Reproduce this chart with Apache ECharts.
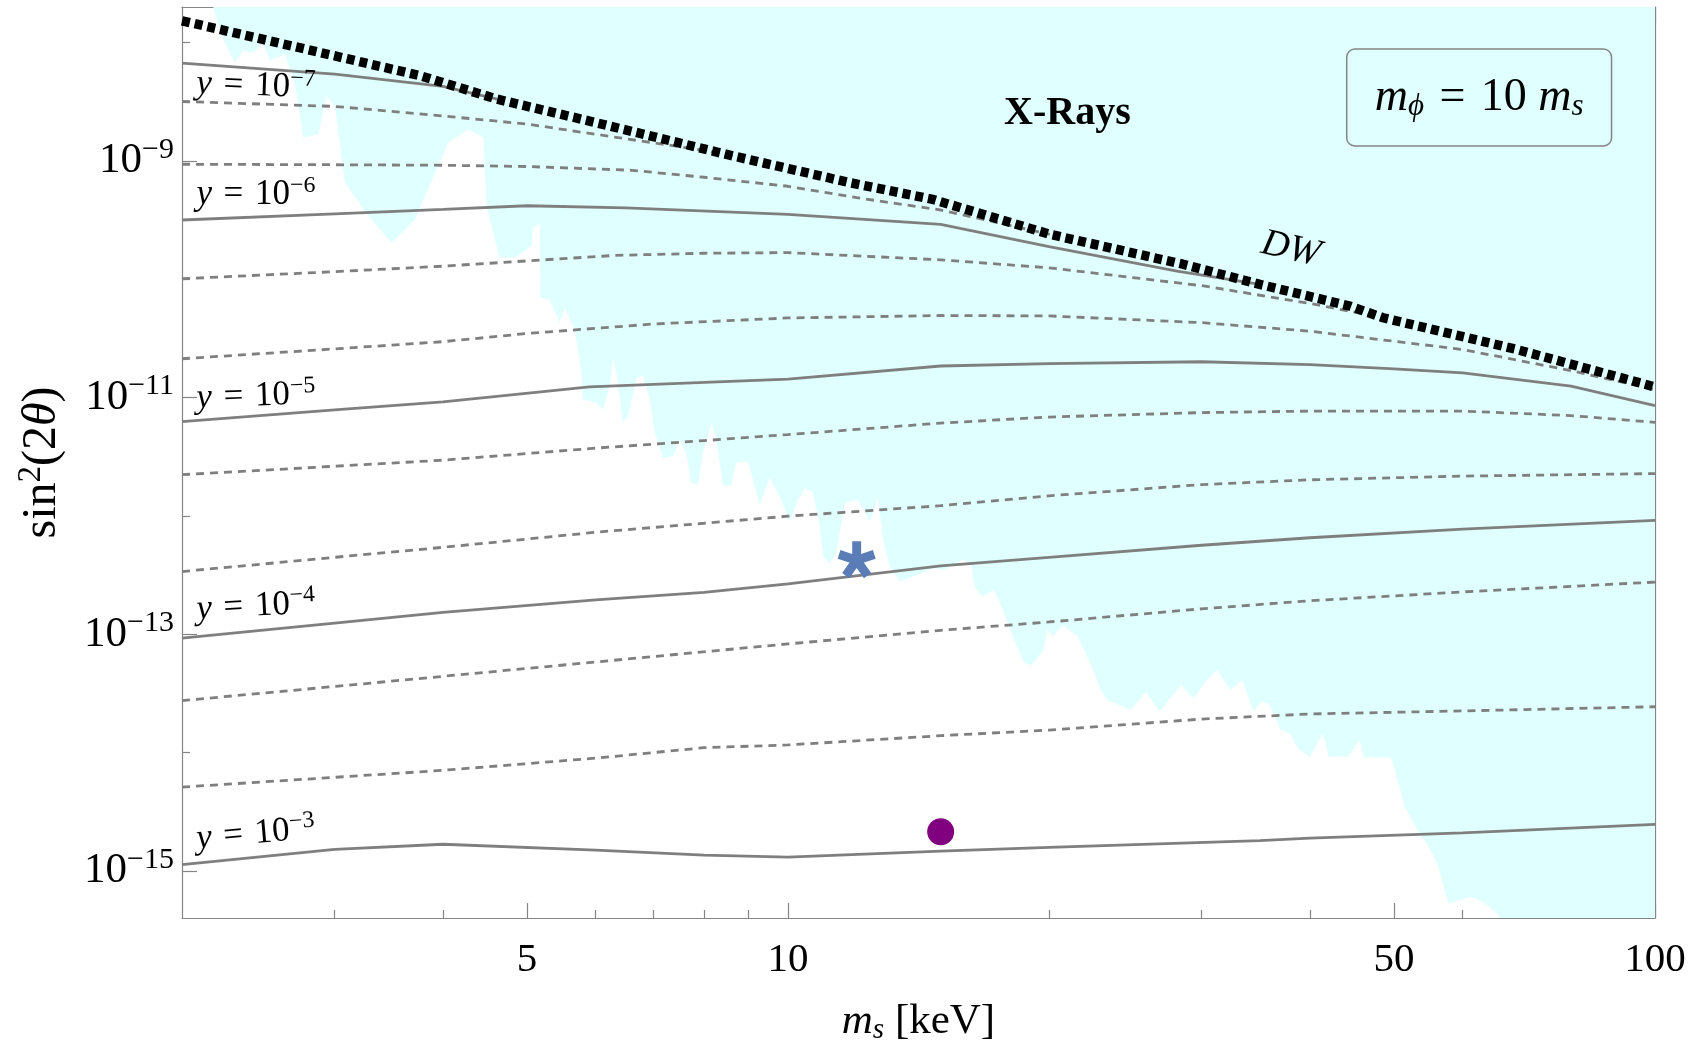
<!DOCTYPE html>
<html>
<head>
<meta charset="utf-8">
<script src="https://cdn.jsdelivr.net/npm/echarts@6/dist/echarts.min.js"></script>
<style>
  html, body { margin: 0; padding: 0; background: #fff; }
  #chart { width: 1703px; height: 1053px; }
</style>
</head>
<body>
<div id="chart"></div>
<script>
const serif = '"Liberation Serif", "DejaVu Serif", serif';
const lineGray = '#7f7f7f';
const frameGray = '#858585';
const xrayFill = '#e0ffff';

// axes
const xRange = [2, 100];
const yRange = [4e-16, 2e-8];
const xMajorTicks = [5, 10, 50, 100];
const xMinorTicks = [3, 4, 6, 7, 8, 9, 20, 30, 40, 60, 70, 80, 90];
const yMajorTicks = [1e-15, 1e-13, 1e-11, 1e-9];
const yMinorTicks = [1e-14, 1e-12, 1e-10, 1e-8];

// DW upper bound (thick dotted)
const dwBound = [
  [2, 1.53e-8], [2.777, 8.81e-9], [3.769, 5.24e-9], [4.618, 3.33e-9], [5.888, 2.18e-9],
  [8.65, 1.10e-9], [11.78, 6.56e-10], [14.68, 4.74e-10], [20.04, 2.40e-10], [28.54, 1.34e-10],
  [35.02, 9.05e-11], [44.48, 5.93e-11], [48.56, 4.73e-11], [69.27, 2.55e-11], [100, 1.23e-11]
];

// solid lines: y = 1e-7 ... 1e-3
const solidY7 = [[2, 6.71e-9], [3, 5.42e-9], [4, 4.26e-9], [4.618, 3.33e-9]];
const solidY6 = [
  [2, 3.17e-10], [3, 3.57e-10], [4, 3.89e-10], [5, 4.18e-10], [6.5, 4.02e-10], [10, 3.54e-10],
  [15, 2.91e-10], [20, 1.89e-10], [28.1, 1.17e-10], [35.02, 9.05e-11]
];
const solidY5 = [
  [2, 6.27e-12], [3, 7.86e-12], [4, 9.20e-12], [5.9, 1.23e-11], [10, 1.43e-11], [15, 1.85e-11],
  [20, 1.94e-11], [30, 2.01e-11], [40, 1.90e-11], [50, 1.75e-11], [60, 1.62e-11], [80, 1.25e-11],
  [100, 8.57e-12]
];
const solidY4 = [
  [2, 9.27e-14], [3, 1.24e-13], [4, 1.53e-13], [6, 1.95e-13], [8, 2.26e-13], [10, 2.67e-13],
  [15, 3.79e-13], [20, 4.47e-13], [30, 5.65e-13], [40, 6.54e-13], [60, 7.73e-13], [100, 9.16e-13]
];
const solidY3 = [
  [2, 1.13e-15], [3, 1.52e-15], [4, 1.68e-15], [6, 1.50e-15], [8, 1.36e-15], [10, 1.31e-15],
  [15, 1.47e-15], [20, 1.58e-15], [35, 1.80e-15], [40, 1.89e-15], [60, 2.10e-15], [100, 2.47e-15]
];

// dashed lines: intermediate couplings
const dashY7a = [[2, 3.18e-9], [3, 2.89e-9], [4, 2.40e-9], [5, 2.05e-9], [6, 1.68e-9], [8, 1.23e-9], [8.65, 1.10e-9]];
const dashY7b = [
  [2, 9.38e-10], [3, 9.29e-10], [4, 9.20e-10], [5, 8.97e-10], [6.6, 8.34e-10], [8, 7.28e-10],
  [10, 6.11e-10], [12, 4.89e-10], [15, 3.85e-10], [20.04, 2.40e-10]
];
const dashY6a = [
  [2, 1.01e-10], [3, 1.16e-10], [4, 1.29e-10], [6.3, 1.59e-10], [8, 1.66e-10], [10, 1.68e-10],
  [15, 1.46e-10], [20, 1.25e-10], [30, 8.83e-11], [40, 6.25e-11], [48.56, 4.73e-11]
];
const dashY6b = [
  [2, 2.13e-11], [3, 2.58e-11], [4, 2.97e-11], [5, 3.48e-11], [7, 4.19e-11], [10, 4.71e-11],
  [15, 4.94e-11], [20, 4.90e-11], [30, 4.30e-11], [40, 3.64e-11], [60, 2.55e-11], [80, 1.69e-11],
  [100, 1.17e-11]
];
const dashY5a = [
  [2, 2.23e-12], [3, 2.63e-12], [4, 2.96e-12], [6, 3.74e-12], [8, 4.33e-12], [10, 4.87e-12],
  [15, 6.09e-12], [20, 6.85e-12], [30, 7.47e-12], [40, 7.69e-12], [60, 7.69e-12], [80, 7.05e-12],
  [100, 6.18e-12]
];
const dashY5b = [
  [2, 3.39e-13], [3, 4.47e-13], [4, 5.43e-13], [6, 7.28e-13], [8, 8.67e-13], [10, 9.95e-13],
  [15, 1.22e-12], [20, 1.48e-12], [30, 1.84e-12], [40, 2.02e-12], [60, 2.17e-12], [100, 2.28e-12]
];
const dashY4a = [
  [2, 2.75e-14], [3, 3.62e-14], [4, 4.41e-14], [6, 5.83e-14], [10, 8.29e-14], [15, 1.08e-13],
  [20, 1.27e-13], [30, 1.64e-13], [40, 1.92e-13], [60, 2.28e-13], [100, 2.76e-13]
];
const dashY4b = [
  [2, 5.11e-15], [3, 6.18e-15], [4, 7.08e-15], [6, 8.97e-15], [8, 1.10e-14], [10, 1.16e-14],
  [15, 1.39e-14], [20, 1.55e-14], [30, 1.92e-14], [40, 2.12e-14], [60, 2.25e-14], [100, 2.44e-14]
];

// lower edge of the X-ray excluded region (filled up to the top)
const xrayEdge = [
  [2.173, 2e-8], [2.222, 1.142e-8], [2.301, 6.80e-9], [2.353, 8.53e-9], [2.416, 8.27e-9],
  [2.481, 9.72e-9], [2.526, 7.02e-9], [2.628, 8.00e-9], [2.699, 4.46e-9], [2.760, 1.58e-9],
  [2.872, 1.68e-9], [2.936, 3.55e-9], [3.001, 2.92e-9], [3.082, 6.56e-10], [3.281, 3.42e-10],
  [3.490, 2.04e-10], [3.713, 3.21e-10], [4.057, 1.43e-9], [4.278, 1.85e-9], [4.452, 1.58e-9],
  [4.491, 4.16e-10], [4.649, 1.52e-10], [4.842, 1.52e-10], [5.062, 1.91e-10], [5.080, 2.73e-10],
  [5.171, 3.01e-10], [5.181, 6.98e-11], [5.309, 6.76e-11], [5.453, 4.34e-11], [5.526, 5.75e-11],
  [5.675, 3.77e-11], [5.777, 1.62e-11], [5.801, 9.63e-12], [6.011, 9.03e-12], [6.118, 7.92e-12],
  [6.228, 1.25e-11], [6.283, 2.17e-11], [6.339, 1.62e-11], [6.452, 6.11e-12], [6.538, 6.95e-12],
  [6.686, 1.47e-11], [6.805, 1.52e-11], [6.927, 9.63e-12], [7.019, 5.03e-12], [7.175, 3.09e-12],
  [7.368, 3.19e-12], [7.499, 4.42e-12], [7.634, 3.41e-12], [7.735, 1.90e-12], [7.873, 1.84e-12],
  [7.978, 3.41e-12], [8.158, 6.11e-12], [8.268, 4.42e-12], [8.414, 1.78e-12], [8.604, 1.84e-12],
  [8.719, 2.81e-12], [8.992, 2.89e-12], [9.112, 2.02e-12], [9.276, 1.24e-12], [9.526, 2.09e-12],
  [9.782, 1.46e-12], [10.05, 8.99e-13], [10.27, 1.37e-12], [10.45, 1.72e-12], [10.69, 1.56e-12],
  [10.88, 8.15e-13], [10.98, 4.54e-13], [11.17, 4.00e-13], [11.37, 4.86e-13], [11.63, 1.29e-12],
  [12.04, 1.37e-12], [12.43, 8.99e-13], [12.70, 1.42e-12], [12.87, 6.29e-13], [13.10, 3.74e-13],
  [13.46, 2.79e-13], [14.09, 3.18e-13], [14.68, 3.62e-13], [15.12, 3.51e-13], [15.91, 4.26e-13],
  [16.25, 4.00e-13], [16.41, 2.53e-13], [16.75, 2.08e-13], [17.27, 2.37e-13], [17.63, 1.72e-13],
  [18.17, 9.56e-14], [18.73, 5.69e-14], [19.11, 5.51e-14], [19.71, 7.38e-14], [19.91, 1.09e-13],
  [20.20, 9.56e-14], [20.74, 1.20e-13], [21.59, 9.56e-14], [22.49, 5.00e-14], [22.95, 3.38e-14],
  [23.36, 2.79e-14], [24.85, 2.29e-14], [25.87, 3.27e-14], [26.82, 2.22e-14], [28.38, 3.73e-14],
  [29.39, 2.88e-14], [30.32, 3.98e-14], [31.26, 4.93e-14], [32.40, 3.38e-14], [33.41, 4.11e-14],
  [34.44, 2.22e-14], [35.16, 2.70e-14], [35.87, 2.58e-14], [37.01, 1.55e-14], [37.96, 1.46e-14],
  [38.73, 1.09e-14], [39.95, 9.23e-15], [40.77, 1.20e-14], [41.40, 1.46e-14], [42.04, 9.23e-15],
  [44.24, 9.23e-15], [45.62, 1.28e-14], [46.10, 9.12e-15], [49.55, 9.12e-15], [49.99, 7.60e-15],
  [51.45, 3.48e-15], [52.97, 2.36e-15], [54.51, 1.71e-15], [56.11, 1.16e-15], [57.76, 5.30e-16],
  [61.16, 6.03e-16], [62.99, 5.65e-16], [65.80, 4.37e-16], [66.24, 4e-16], [100, 4e-16]
];

// benchmark points
const starPoint = [[12.0, 4.26e-13]];
const dotPoint = [[15.0, 2.14e-15]];

// annotation anchors (data coordinates)
const couplingLabels = [
  { exp: 7, at: [2.078, 4.48e-9], tilt: -2 },
  { exp: 6, at: [2.078, 5.22e-10], tilt: 0 },
  { exp: 5, at: [2.078, 9.86e-12], tilt: 2 },
  { exp: 4, at: [2.078, 1.62e-13], tilt: 3 },
  { exp: 3, at: [2.078, 1.86e-15], tilt: 5 }
];
const xraysAt = [21.0, 2.51e-9];
const dwAt = [38.0, 1.79e-10];
const massBox = [[44.1, 8.82e-9], [89.1, 1.34e-9]];

// 5-armed asterisk like the TeX "*"
function asterisk(arms, halfWidth) {
  let d = '';
  for (let i = 0; i < arms; i++) {
    const a = Math.PI / 2 + i * 2 * Math.PI / arms;
    const ux = Math.cos(a), uy = -Math.sin(a);
    const nx = -uy * halfWidth, ny = ux * halfWidth;
    const pts = [[nx, ny], [ux + nx, uy + ny], [ux - nx, uy - ny], [-nx, -ny]];
    d += 'M' + pts.map(p => p[0].toFixed(3) + ' ' + p[1].toFixed(3)).join('L') + 'Z';
  }
  return 'path://' + d;
}

const tickLine = { color: frameGray, width: 1.2 };
function logAxis(range, position, ticks, len, showLine, label) {
  return {
    type: 'log', logBase: 10, min: range[0], max: range[1], position: position,
    axisLine: { show: showLine, onZero: false, lineStyle: { color: frameGray, width: 1.2 } },
    axisTick: { show: true, inside: true, length: len, customValues: ticks, lineStyle: tickLine },
    axisLabel: label || { show: false },
    splitLine: { show: false },
    minorTick: { show: false },
    minorSplitLine: { show: false }
  };
}

const xLabel = {
  show: true, customValues: xMajorTicks, margin: 22,
  fontSize: 41, fontFamily: serif, color: '#000'
};
const yLabel = {
  show: true, customValues: yMajorTicks, margin: 8,
  formatter: v => '{b|10}{e|\u2212' + Math.round(-Math.log10(v)) + '}',
  rich: {
    b: { fontSize: 43, fontFamily: serif, color: '#000' },
    e: { fontSize: 30, fontFamily: serif, color: '#000', padding: [0, 0, 22, 0] }
  }
};

const xBottom = logAxis(xRange, 'bottom', xMajorTicks, 15, true, xLabel);
xBottom.name = '{i|m}{s|s}{t| [keV]}';
xBottom.nameLocation = 'middle';
xBottom.nameGap = 80;
xBottom.nameTextStyle = {
  rich: {
    i: { fontSize: 43, fontFamily: serif, fontStyle: 'italic', color: '#000' },
    s: { fontSize: 29, fontFamily: serif, fontStyle: 'italic', color: '#000', padding: [18, 0, 0, 0] },
    t: { fontSize: 43, fontFamily: serif, color: '#000' }
  }
};

const yLeft = logAxis(yRange, 'left', yMajorTicks, 15, true, yLabel);
yLeft.name = '{t|sin}{e|2}{t|(2}{i|\u03b8}{t|)}';
yLeft.nameLocation = 'middle';
yLeft.nameRotate = 90;
yLeft.nameGap = 112;
yLeft.nameTextStyle = {
  rich: {
    t: { fontSize: 48, fontFamily: serif, color: '#000' },
    i: { fontSize: 48, fontFamily: serif, fontStyle: 'italic', color: '#000' },
    e: { fontSize: 33, fontFamily: serif, color: '#000', padding: [0, 0, 22, 0] }
  }
};

function curve(data, dashed) {
  return {
    type: 'line', data: data, symbol: 'none', silent: true, z: 3,
    lineStyle: { color: lineGray, width: 2.8, type: dashed ? [8, 6] : 'solid' }
  };
}

const chart = echarts.init(document.getElementById('chart'));
chart.setOption({
  animation: false,
  backgroundColor: '#fff',
  grid: { left: 182, right: 48, top: 7, bottom: 135, containLabel: false, outerBoundsMode: 'none' },
  xAxis: [
    xBottom,
    logAxis(xRange, 'bottom', xMinorTicks, 8, false),
    logAxis(xRange, 'top', xMajorTicks, 15, true),
    logAxis(xRange, 'top', xMinorTicks, 8, false)
  ],
  yAxis: [
    yLeft,
    logAxis(yRange, 'left', yMinorTicks, 8, false),
    logAxis(yRange, 'right', yMajorTicks, 15, true),
    logAxis(yRange, 'right', yMinorTicks, 8, false)
  ],
  series: [
    {
      type: 'line', name: 'X-Rays', data: xrayEdge, symbol: 'none', silent: true, z: 1,
      lineStyle: { width: 0, opacity: 0 },
      areaStyle: { color: xrayFill, opacity: 1, origin: 'end' }
    },
    curve(solidY7), curve(solidY6), curve(solidY5), curve(solidY4), curve(solidY3),
    curve(dashY7a, true), curve(dashY7b, true), curve(dashY6a, true), curve(dashY6b, true),
    curve(dashY5a, true), curve(dashY5b, true), curve(dashY4a, true), curve(dashY4b, true),
    {
      type: 'line', name: 'DW', data: dwBound, symbol: 'none', silent: true, z: 5,
      lineStyle: { color: '#000', width: 9.5, type: [8, 5], cap: 'butt' }
    },
    {
      type: 'scatter', data: starPoint, symbol: asterisk(5, 0.24), symbolSize: [38, 37], z: 6,
      itemStyle: { color: '#5a7db8', opacity: 1 }
    },
    {
      type: 'scatter', data: dotPoint, symbol: 'circle', symbolSize: 27, z: 6,
      itemStyle: { color: '#800080', opacity: 1 }
    }
  ]
});

// text annotations, anchored through the axes
const toPx = p => chart.convertToPixel({ xAxisIndex: 0, yAxisIndex: 0 }, p);
const graphics = [];

couplingLabels.forEach(l => {
  const p = toPx(l.at);
  graphics.push({
    type: 'text', x: p[0], y: p[1], rotation: l.tilt * Math.PI / 180, z: 10,
    style: {
      text: '{i|y}{t|\u2004=\u200410}{e|\u2212' + l.exp + '}',
      align: 'left', verticalAlign: 'middle', textAlign: 'left', textVerticalAlign: 'middle',
      rich: {
        i: { fontSize: 35, fontFamily: serif, fontStyle: 'italic', fill: '#000', color: '#000' },
        t: { fontSize: 35, fontFamily: serif, fill: '#000', color: '#000' },
        e: { fontSize: 24, fontFamily: serif, fill: '#000', color: '#000', padding: [0, 0, 17, 0] }
      }
    }
  });
});

const xr = toPx(xraysAt);
graphics.push({
  type: 'text', x: xr[0], y: xr[1], z: 10,
  style: {
    text: 'X-Rays', fill: '#000', font: 'bold 40px ' + serif,
    align: 'center', verticalAlign: 'middle', textAlign: 'center', textVerticalAlign: 'middle'
  }
});

const dw = toPx(dwAt);
graphics.push({
  type: 'text', x: dw[0], y: dw[1], rotation: -13 * Math.PI / 180, z: 10,
  style: {
    text: 'DW', fill: '#000', font: 'italic 38px ' + serif,
    align: 'center', verticalAlign: 'middle', textAlign: 'center', textVerticalAlign: 'middle'
  }
});

const b0 = toPx(massBox[0]), b1 = toPx(massBox[1]);
graphics.push({
  type: 'rect', z: 10,
  shape: { x: b0[0], y: b0[1], width: b1[0] - b0[0], height: b1[1] - b0[1], r: 8 },
  style: { fill: xrayFill, stroke: frameGray, lineWidth: 1.5 }
});
graphics.push({
  type: 'text', x: (b0[0] + b1[0]) / 2, y: (b0[1] + b1[1]) / 2, z: 11,
  style: {
    text: '{i|m}{s|\u03d5}{t|\u2004=\u200410 }{i|m}{s|s}',
    align: 'center', verticalAlign: 'middle', textAlign: 'center', textVerticalAlign: 'middle',
    rich: {
      i: { fontSize: 46, fontFamily: serif, fontStyle: 'italic', fill: '#000', color: '#000' },
      t: { fontSize: 46, fontFamily: serif, fill: '#000', color: '#000' },
      s: { fontSize: 31, fontFamily: serif, fontStyle: 'italic', fill: '#000', color: '#000', padding: [18, 0, 0, 0] }
    }
  }
});

chart.setOption({ graphic: graphics });
</script>
</body>
</html>
